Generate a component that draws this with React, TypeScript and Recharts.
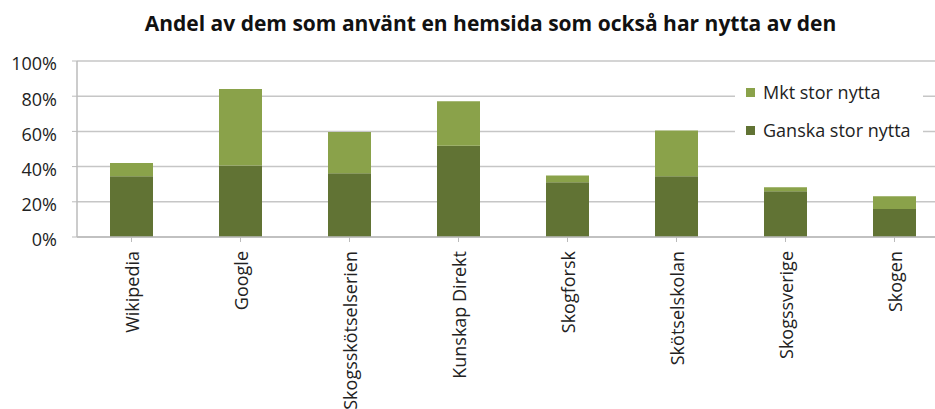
import React from "react";
import { BarChart, Bar, XAxis, YAxis, CartesianGrid } from "recharts";

const sites = [
  "Wikipedia",
  "Google",
  "Skogsskötselserien",
  "Kunskap Direkt",
  "Skogforsk",
  "Skötselskolan",
  "Skogssverige",
  "Skogen",
];
const ganskaStor = [0.345, 0.406, 0.362, 0.519, 0.311, 0.345, 0.26, 0.159];
const mktStor = [0.075, 0.435, 0.235, 0.252, 0.039, 0.26, 0.022, 0.072];
const yTicks = [0, 0.2, 0.4, 0.6, 0.8, 1];

const data = sites.map((name, i) => ({
  name,
  ganska: ganskaStor[i],
  mkt: mktStor[i],
}));

const DARK = "#617334";
const LIGHT = "#8aa24a";
const FONT = "'Open Sans', sans-serif";

const SiteTick = (props: any) => {
  const { x, y, payload } = props;
  const ax = x + 7;
  const ay = y + 7;
  return (
    <text
      x={ax}
      y={ay}
      transform={`rotate(-90, ${ax}, ${ay})`}
      textAnchor="end"
      fontSize={18}
      fill="#222"
      fontFamily={FONT}
    >
      {payload.value}
    </text>
  );
};

const PctTick = (props: any) => {
  const { x, y, payload } = props;
  return (
    <text
      x={x}
      y={y + 3}
      dy="0.355em"
      textAnchor="end"
      fontSize={18}
      fill="#222"
      fontFamily={FONT}
    >
      {`${Math.round(payload.value * 100)}%`}
    </text>
  );
};

const legendItems = [
  { label: "Mkt stor nytta", color: LIGHT, top: 80 },
  { label: "Ganska stor nytta", color: DARK, top: 118 },
];

export default function App() {
  return (
    <div
      style={{
        position: "absolute",
        left: 0,
        top: 0,
        width: 935,
        height: 409,
        overflow: "hidden",
        background: "#fff",
      }}
    >
      <div
        style={{
          position: "absolute",
          left: 0,
          width: 981,
          top: 9,
          textAlign: "center",
          fontFamily: FONT,
          fontWeight: 700,
          fontSize: 21,
          whiteSpace: "nowrap",
          color: "#111",
        }}
      >
        Andel av dem som använt en hemsida som också har nytta av den
      </div>
      <BarChart
        width={960}
        height={409}
        data={data}
        margin={{ top: 61, right: 11, bottom: 0, left: 0 }}
        barSize={43}
      >
        <CartesianGrid vertical={false} stroke="#c6c6c6" strokeWidth={1.5} />
        <XAxis
          dataKey="name"
          height={172}
          interval={0}
          tick={<SiteTick />}
          tickLine={{ stroke: "#bbb" }}
          axisLine={{ stroke: "#bbb", strokeWidth: 1.5 }}
          tickSize={5}
        />
        <YAxis
          width={77}
          domain={[0, 1]}
          ticks={yTicks}
          tick={<PctTick />}
          axisLine={{ stroke: "#bbb", strokeWidth: 1.5 }}
          tickLine={{ stroke: "#bbb" }}
          tickSize={5}
          tickMargin={15}
        />
        <Bar dataKey="ganska" stackId="a" fill={DARK} isAnimationActive={false} />
        <Bar dataKey="mkt" stackId="a" fill={LIGHT} isAnimationActive={false} />
      </BarChart>
      <div
        style={{
          position: "absolute",
          left: 735,
          top: 72,
          width: 188,
          height: 74,
          background: "#fff",
          fontFamily: FONT,
          fontSize: 18,
          color: "#222",
        }}
      >
        {legendItems.map((it) => (
          <div
            key={it.label}
            style={{
              position: "absolute",
              left: 11,
              top: it.top - 72,
              height: 24,
              lineHeight: "24px",
              display: "flex",
              alignItems: "center",
              whiteSpace: "nowrap",
            }}
          >
            <span
              style={{
                width: 9,
                height: 9,
                background: it.color,
                display: "inline-block",
                marginRight: 8,
              }}
            />
            {it.label}
          </div>
        ))}
      </div>
    </div>
  );
}
